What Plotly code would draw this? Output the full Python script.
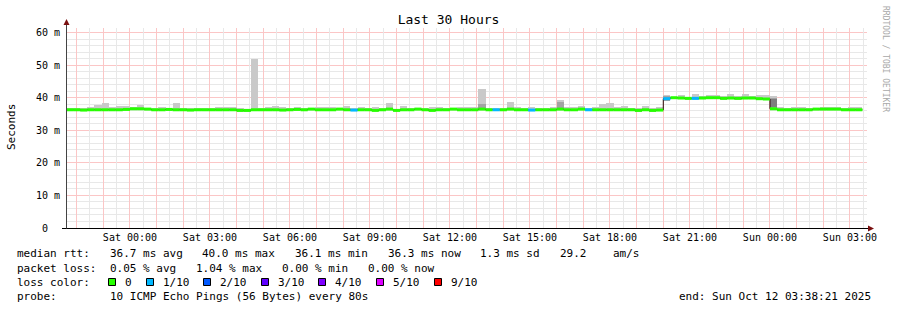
import plotly.graph_objects as go
import pandas as pd

# ---------------- data ----------------
BIN_ORIGIN = "2025-10-11 00:00:00"   # Sat 00:00, bins of 16 minutes
BIN_MINUTES = 16
FIRST_BIN = -9                      # first bin starts Fri 21:36
X_START = "2025-10-10 21:38:21"
X_END = "2025-10-12 03:38:21"

median_ms = [
    36.3, 36.3, 36.2, 36.3, 36.3, 36.3, 36.3, 36.3,
    36.4,
    36.6, 36.6, 36.5,
    36.3, 36.3, 36.4, 36.3, 36.3, 36.2, 36.3, 36.3, 36.3, 36.3, 36.3, 36.3,
    36.1, 36.1,
    36.3, 36.3, 36.3, 36.3, 36.2, 36.3, 36.4, 36.3,
    36.5, 36.3, 36.3, 36.3, 36.5, 36.3,
    36.2,
    36.3, 36.3, 36.1, 36.3, 36.5, 36.1, 36.3, 36.3,
    36.5, 36.3, 36.1, 36.3, 36.3, 36.5, 36.3, 36.3, 36.3,
    36.5,
    36.3, 36.3, 36.3, 36.5, 36.3, 36.3, 36.2, 36.3, 36.3, 36.3,
    36.5, 36.3, 36.3, 36.5, 36.3, 36.3, 36.3, 36.3, 36.3, 36.3, 36.3, 36.1, 36.3, 36.1, 36.2,
    39.7, 40.0, 39.9, 39.8, 39.8, 39.9, 40.0, 40.0, 39.8, 39.9, 39.8, 39.9, 39.9, 39.7, 39.6,
    36.6,
    36.3, 36.3, 36.3, 36.3, 36.3, 36.5, 36.5, 36.5, 36.5, 36.3, 36.3, 36.3,
]

smoke_max_ms = [
    36.8, 36.7, 36.9, 37.1, 37.8, 38.3, 37.3, 37.5,
    37.5,
    37.1, 37.8, 36.9,
    36.7, 37.1, 36.7, 38.3, 36.9, 36.8, 36.8, 36.7, 36.9, 37.2, 37.2, 37.2,
    36.7, 36.6,
    51.9, 36.8, 37.1, 37.4, 37.1, 36.7, 37.0, 36.8,
    36.9, 37.1, 37.0, 37.1, 36.9, 37.4,
    36.8,
    37.1, 36.8, 37.1, 36.8, 38.3, 36.6, 37.4, 36.8,
    36.9, 36.7, 37.1, 37.1, 36.7, 36.9, 37.0, 37.1, 37.1,
    42.6,
    36.8, 36.7, 36.9, 38.6, 37.3, 36.8, 37.1, 36.8, 36.9, 37.0,
    39.4, 37.1, 37.1, 37.5, 36.8, 37.0, 38.0, 38.3, 37.0, 37.4, 36.8, 36.7, 37.4, 36.9, 37.1,
    40.8, 40.3, 40.9, 40.3, 41.1, 40.4, 40.8, 40.8, 40.4, 41.1, 40.5, 41.1, 40.6, 40.7, 40.8,
    40.4,
    37.0, 36.9, 37.0, 37.2, 36.8, 36.9, 37.2, 37.2, 37.0, 36.8, 37.0, 37.0,
]

smoke_min_ms = [
    36.0, 36.0, 35.9, 36.0, 36.0, 36.0, 36.0, 36.0,
    36.1,
    36.2, 36.2, 36.2,
    36.0, 36.0, 36.1, 36.0, 36.0, 35.9, 36.0, 36.0, 36.0, 36.0, 36.0, 36.0,
    35.6, 35.7,
    36.0, 36.0, 36.0, 36.0, 35.8, 36.0, 36.1, 36.0,
    36.2, 36.0, 36.0, 36.0, 36.2, 36.0,
    35.9,
    36.0, 36.0, 35.8, 36.0, 36.2, 35.8, 36.0, 36.0,
    36.2, 36.0, 35.8, 36.0, 36.0, 36.2, 36.0, 35.8, 36.0,
    36.2,
    36.0, 36.0, 36.0, 36.2, 36.0, 36.0, 35.9, 36.0, 36.0, 36.0,
    36.2, 36.0, 36.0, 36.2, 36.0, 36.0, 36.0, 36.0, 36.0, 36.0, 36.0, 35.7, 36.0, 35.7, 35.8,
    39.1, 39.6, 39.5, 39.4, 39.4, 39.5, 39.6, 39.6, 39.4, 39.5, 39.4, 39.5, 39.5, 39.3, 39.2,
    36.3,
    36.0, 36.0, 36.0, 36.0, 36.0, 36.2, 36.2, 36.2, 36.2, 36.0, 36.0, 36.0,
]

# denser smoke (inner pings) in a few bins
inner_bins = [49, 60, 75, 90]
inner_low_ms = [36.5, 36.5, 39.1, 36.6]
inner_high_ms = [38.0, 38.7, 40.5, 39.9]
core_bins = [90]
core_low_ms = [37.0]
core_high_ms = [39.6]

# bins whose median is drawn in a loss colour (1/10 lost)
loss_bins = [31, 51, 56, 64, 75, 79]
loss_tenths = [1, 1, 1, 1, 1, 1]

loss_labels = ["0", "1/10", "2/10", "3/10", "4/10", "5/10", "9/10"]
loss_colors = ["#26ff00", "#00b8ff", "#0059ff", "#5e00ff", "#7e00ff", "#dd00ff", "#ff0000"]

x_tick_times = ["2025-10-11 00:00", "2025-10-11 03:00", "2025-10-11 06:00", "2025-10-11 09:00",
                "2025-10-11 12:00", "2025-10-11 15:00", "2025-10-11 18:00", "2025-10-11 21:00",
                "2025-10-12 00:00", "2025-10-12 03:00"]
x_tick_labels = ["Sat 00:00", "Sat 03:00", "Sat 06:00", "Sat 09:00", "Sat 12:00", "Sat 15:00",
                 "Sat 18:00", "Sat 21:00", "Sun 00:00", "Sun 03:00"]
y_tick_values = [0, 10, 20, 30, 40, 50, 60]
y_tick_labels = ["0\u00a0\u00a0", "10 m", "20 m", "30 m", "40 m", "50 m", "60 m"]

stats_rtt = ["36.7 ms avg", "40.0 ms max", "36.1 ms min", "36.3 ms now", "1.3 ms sd", "29.2", "am/s"]
stats_loss = ["0.05 % avg", "1.04 % max", "0.00 % min", "0.00 % now"]
probe_text = "10 ICMP Echo Pings (56 Bytes) every 80s"
end_text = "end: Sun Oct 12 03:38:21 2025"

# ---------------- build ----------------
MONO = "DejaVu Sans Mono"
W, H = 897, 310
L, R, T, B = 67, 30, 28, 82
PW, PH = W - L - R, H - T - B
Y_MAX = 61.4


def px(x):
    return (x - L) / PW


def py(y):
    return (H - B - y) / PH


n = len(median_ms)
origin = pd.Timestamp(BIN_ORIGIN)
step = pd.Timedelta(minutes=BIN_MINUTES)
starts = [origin + (FIRST_BIN + i) * step for i in range(n)]
ends = [s + step for s in starts]
centers = [s + step / 2 for s in starts]
fmt = lambda t: t.strftime("%Y-%m-%d %H:%M:%S")
width_ms = BIN_MINUTES * 60 * 1000

loss = [0] * n
for b, l in zip(loss_bins, loss_tenths):
    loss[b - FIRST_BIN] = l

fig = go.Figure()

# smoke: outer range
fig.add_trace(go.Bar(
    x=[fmt(c) for c in centers],
    y=[hi - lo for lo, hi in zip(smoke_min_ms, smoke_max_ms)],
    base=smoke_min_ms, width=width_ms,
    marker=dict(color="#c9c9c9", line=dict(width=0)), hoverinfo="skip"))
# smoke: inner range
fig.add_trace(go.Bar(
    x=[fmt(centers[b - FIRST_BIN]) for b in inner_bins],
    y=[hi - lo for lo, hi in zip(inner_low_ms, inner_high_ms)],
    base=inner_low_ms, width=width_ms,
    marker=dict(color="#a3a3a3", line=dict(width=0)), hoverinfo="skip"))
fig.add_trace(go.Bar(
    x=[fmt(centers[b - FIRST_BIN]) for b in core_bins],
    y=[hi - lo for lo, hi in zip(core_low_ms, core_high_ms)],
    base=core_low_ms, width=width_ms,
    marker=dict(color="#7e7e7e", line=dict(width=0)), hoverinfo="skip"))

# thin dark step line (visible on big jumps)
fig.add_trace(go.Scatter(
    x=[fmt(s) for s in starts] + [fmt(ends[-1])],
    y=median_ms + [median_ms[-1]],
    mode="lines", line=dict(color="#2a0808", width=1, shape="hv"), hoverinfo="skip"))

# median band coloured by loss
for lvl in sorted(set(loss)):
    xs, ys = [], []
    for i in range(n):
        if loss[i] == lvl:
            xs += [fmt(starts[i]), fmt(ends[i]), None]
            ys += [median_ms[i], median_ms[i], None]
    fig.add_trace(go.Scatter(x=xs, y=ys, mode="lines",
                             line=dict(color=loss_colors[lvl], width=3), hoverinfo="skip"))

hours = pd.date_range(pd.Timestamp("2025-10-10 22:00"), pd.Timestamp("2025-10-12 03:00"), freq="1h")
half_hours = pd.date_range(pd.Timestamp("2025-10-10 21:30"), pd.Timestamp("2025-10-12 03:30"), freq="1h")
label_map = dict(zip([pd.Timestamp(t) for t in x_tick_times], x_tick_labels))
grid_red = "#fbc6c6"
grid_gray = "#e8e8e8"
y_minor = [v for v in range(2, 62, 2) if v % 10 != 0]

fig.update_layout(
    width=W, height=H, autosize=False,
    margin=dict(l=L, r=R, t=T, b=B, pad=0),
    paper_bgcolor="white", plot_bgcolor="rgba(0,0,0,0)",
    showlegend=False, barmode="overlay", bargap=0,
    font=dict(family=MONO, size=10, color="#000"),
    title=dict(text="Last 30 Hours", x=0.5, xref="container", xanchor="center",
               y=1 - 19 / H, yref="container", yanchor="middle",
               font=dict(family=MONO, size=13, color="#000")),
    xaxis=dict(
        type="date", range=[X_START, X_END],
        tickmode="array", tickvals=[fmt(h) for h in hours],
        ticktext=[label_map.get(h, "") for h in hours],
        ticks="", ticklabelstandoff=2, showline=False, zeroline=False, showgrid=False,
        tickfont=dict(family=MONO, size=10, color="#000"),
        fixedrange=True,
    ),
    yaxis=dict(
        range=[0, Y_MAX], tickmode="array", tickvals=y_tick_values, ticktext=y_tick_labels,
        ticks="", ticklabelstandoff=6, showline=False, zeroline=False, showgrid=False,
        tickfont=dict(family=MONO, size=10, color="#000"),
        fixedrange=True,
    ),
)

shapes = []
# pixel-snapped grid (drawn under the data)
t0 = pd.Timestamp(X_START)
span = (pd.Timestamp(X_END) - t0).total_seconds()


def x_snap(t):
    p = L + (pd.Timestamp(t) - t0).total_seconds() / span * PW
    return px(int(p) + 0.5)


def y_snap(v):
    p = H - B - v / Y_MAX * PH
    return py(int(p) + 0.5)


for vals, col in [(y_minor, grid_gray), (y_tick_values[1:], grid_red)]:
    for v in vals:
        yv = y_snap(v)
        shapes.append(dict(type="line", xref="paper", yref="paper", layer="below",
                           x0=0, x1=1, y0=yv, y1=yv, line=dict(color=col, width=1)))
for tt, col in [(half_hours, grid_gray), (hours, grid_red)]:
    for t in tt:
        xv = x_snap(t)
        if 0 < xv < 1:
            shapes.append(dict(type="line", xref="paper", yref="paper", layer="below",
                               x0=xv, x1=xv, y0=0, y1=1, line=dict(color=col, width=1)))

# axes
shapes.append(dict(type="line", xref="paper", yref="paper", x0=px(62), x1=px(868),
                   y0=py(228.5), y1=py(228.5), line=dict(color="#000", width=1)))
shapes.append(dict(type="line", xref="paper", yref="paper", x0=px(66.5), x1=px(66.5),
                   y0=py(228.5), y1=py(23), line=dict(color="#444", width=1)))
# arrows
shapes.append(dict(type="path", xref="paper", yref="paper",
                   path=f"M {px(63.5)},{py(25)} L {px(69.5)},{py(25)} L {px(66.5)},{py(19)} Z",
                   fillcolor="#7a1010", line=dict(width=0)))
shapes.append(dict(type="path", xref="paper", yref="paper",
                   path=f"M {px(868)},{py(225.5)} L {px(868)},{py(231.5)} L {px(874)},{py(228.5)} Z",
                   fillcolor="#7a1010", line=dict(width=0)))

annotations = []


def txt(x, y, s, size=11, color="#000", angle=0, anchor="left"):
    annotations.append(dict(xref="paper", yref="paper", x=px(x), y=py(y), text=s.replace(" ", "\u00a0"),
                            showarrow=False, xanchor=anchor, yanchor="middle", textangle=angle,
                            font=dict(family=MONO, size=size, color=color), borderpad=0))


# y title and side text
txt(11, 127, "Seconds", size=11, angle=-90, anchor="center")
txt(886, 59, "RRDTOOL / TOBI OETIKER", size=8, color="#a8a8a8", angle=90, anchor="center")

# legend lines
CW = 6.62
X0 = 16
txt(X0, 254, "median rtt:")
rtt_cols = [14, 28, 42, 56, 70, 82, 90]
for c, s in zip(rtt_cols, stats_rtt):
    txt(X0 + c * CW, 254, s)
txt(X0, 268, "packet loss:")
for c, s in zip([14, 27, 40, 53], stats_loss):
    txt(X0 + c * CW, 268, s)
txt(X0, 282, "loss color:")
key_x = [108, 146, 203, 261, 318, 376, 434]
for kx, lab, col in zip(key_x, loss_labels, loss_colors):
    shapes.append(dict(type="rect", xref="paper", yref="paper",
                       x0=px(kx + 0.5), x1=px(kx + 7.5), y0=py(278.5), y1=py(285.5),
                       fillcolor=col, line=dict(color="#000", width=1)))
    txt(kx + 15.5, 282, lab)
txt(X0, 296, "probe:")
txt(X0 + 14 * CW, 296, probe_text)
txt(678, 296, end_text)

fig.update_layout(shapes=shapes, annotations=annotations)
fig.write_html("out.html")
